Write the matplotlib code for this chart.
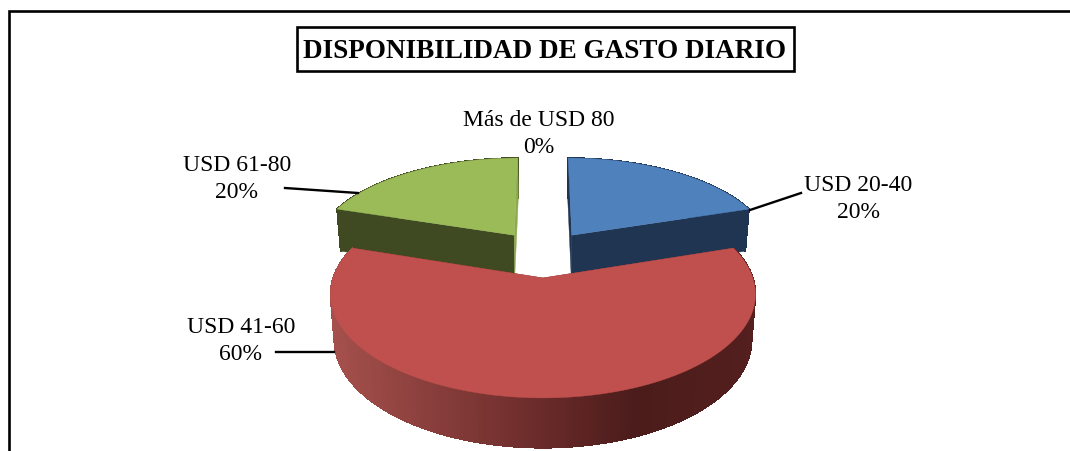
import matplotlib
matplotlib.use("Agg")
import matplotlib.pyplot as plt
import numpy as np
from matplotlib.collections import PolyCollection
from matplotlib.colors import LinearSegmentedColormap

categories = ["USD 20-40", "USD 41-60", "USD 61-80", "Más de USD 80"]
values = [20, 60, 20, 0]
top_colors = ["#4F81BD", "#C0504D", "#9BBB59", "#F79646"]
wall_colors = ["#1F3552", "#7A2F2D", "#3F4A22", "#A05F2C"]
inner_colors = ["#1F3552", "#7A2F2D", "#8CA94F", "#A05F2C"]
label_pos = [(858, 199), (241, 341), (237, 179), (539, 134)]
leaders = [((750, 211), (801, 194)), ((334, 353), (276, 353)), ((358, 194), (285, 189))]

# pie projection, fitted by eye to the picture
CX, CY, R, B, P, DEPTH, EXPLODE = 543, 254.6, 202, 93.8, 0.15, 44, 0.25

side_cmap = LinearSegmentedColormap.from_list(
    "side", [(0, "#A5504C"), (0.5, "#6A2B2A"), (0.72, "#4B1C1B"), (1, "#541F1E")]
)


def project(u, v, t=0.0):
    w = 1 + P * v
    x = CX + R * u / w * (1 - 0.018 * t)
    y = CY - B * v / w + DEPTH * t / w ** 0.6
    return x, y


fig = plt.figure(figsize=(10.7, 4.52), dpi=100)
ax = fig.add_axes([0, 0, 1, 1])
ax.set_xlim(0, 1070)
ax.set_ylim(452, 0)
ax.axis("off")

# frame, open on the right and at the bottom
ax.plot([9, 9, 1070], [452, 12, 12], color="black", lw=1.9, solid_joinstyle="miter")

ax.text(
    545, 52, "DISPONIBILIDAD DE GASTO DIARIO", ha="center", va="center",
    family="Liberation Serif", weight="bold", fontsize=19.5,
)
ax.add_patch(plt.Rectangle((297, 28), 497, 44, fill=False, ec="black", lw=1.9))

total = sum(values)
edges = np.concatenate([[0], np.cumsum(values)]) / total * 2 * np.pi


def draw_slice(i):
    a0, a1 = edges[i], edges[i + 1]
    mid = (a0 + a1) / 2
    ou, ov = EXPLODE * np.sin(mid), EXPLODE * np.cos(mid)
    th = np.linspace(a0, a1, 200)
    arc_u, arc_v = ou + np.sin(th), ov + np.cos(th)

    # outer wall, shaded by x position for the big slice
    xt, yt = project(arc_u, arc_v)
    xb, yb = project(arc_u, arc_v, 1)
    quads = [
        [(xt[k], yt[k]), (xt[k + 1], yt[k + 1]), (xb[k + 1], yb[k + 1]), (xb[k], yb[k])]
        for k in range(len(th) - 1)
    ]
    if i == 1:
        cols = [side_cmap((q[0][0] - 331) / 424) for q in quads]
    else:
        cols = [wall_colors[i]] * len(quads)
    ax.add_collection(
        PolyCollection(quads, facecolors=cols, edgecolors=cols, linewidths=0.5, antialiaseds=False)
    )

    # radial walls
    for a, col in ((a0, wall_colors[i]), (a1, inner_colors[i])):
        eu, ev = ou + np.sin(a), ov + np.cos(a)
        pts = [project(ou, ov), project(ou, ov, 1), project(eu, ev, 1), project(eu, ev)]
        ax.fill(*zip(*pts), color=col, lw=0.3)

    # top face
    tx = np.concatenate([[project(ou, ov)[0]], xt])
    ty = np.concatenate([[project(ou, ov)[1]], yt])
    ax.fill(tx, ty, color=top_colors[i], lw=0.3)


for i in [0, 2, 1]:
    draw_slice(i)

for (p0, p1) in leaders:
    ax.plot([p0[0], p1[0]], [p0[1], p1[1]], color="black", lw=1.7)

for cat, val, pos in zip(categories, values, label_pos):
    ax.text(
        pos[0], pos[1], f"{cat}\n{val}%", ha="center", va="center",
        family="Liberation Serif", fontsize=17, linespacing=1.4,
    )

fig.savefig("out.png", dpi=100, facecolor="white")
plt.close(fig)
